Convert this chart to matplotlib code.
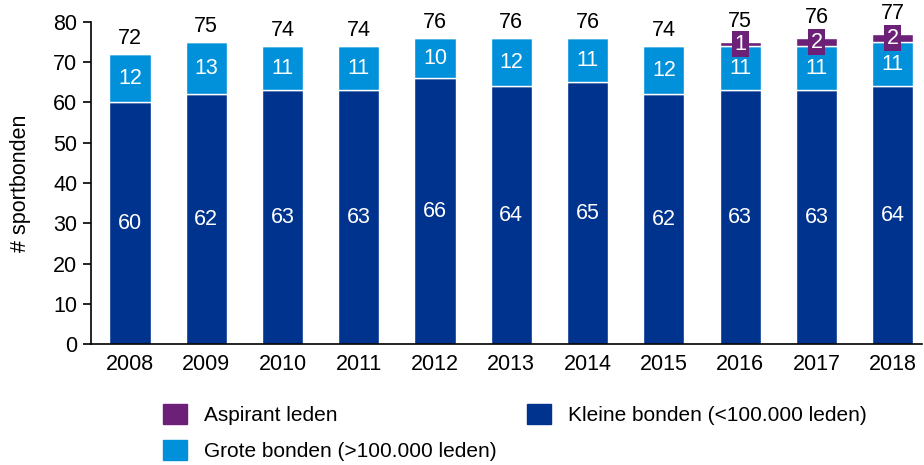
import matplotlib
matplotlib.use("Agg")
import matplotlib.pyplot as plt
from matplotlib.patches import Patch
import numpy as np

plt.rcParams['font.family'] = ['Liberation Sans', 'DejaVu Sans']

years = ['2008', '2009', '2010', '2011', '2012', '2013', '2014', '2015', '2016', '2017', '2018']
kleine = [60, 62, 63, 63, 66, 64, 65, 62, 63, 63, 64]
grote = [12, 13, 11, 11, 10, 12, 11, 12, 11, 11, 11]
aspirant = [0, 0, 0, 0, 0, 0, 0, 0, 1, 2, 2]
totals = [72, 75, 74, 74, 76, 76, 76, 74, 75, 76, 77]

c_kleine = '#00338D'
c_grote = '#0091DA'
c_asp = '#6D2077'

fig = plt.figure(figsize=(9.24, 4.65), dpi=100)
ax = fig.add_axes([0.0985, 0.2602, 0.9975 - 0.0985, 0.9527 - 0.2602])

x = np.arange(len(years))
w = 0.54
kl = np.array(kleine)
gr = np.array(grote)
asp = np.array(aspirant)

ax.bar(x, kl, width=w, color=c_kleine, edgecolor='white', linewidth=1)
ax.bar(x, gr, width=w, bottom=kl, color=c_grote, edgecolor='white', linewidth=1)
ax.bar(x, asp, width=w, bottom=kl + gr, color=c_asp, edgecolor='white', linewidth=1)

fs = 15.5
for i in range(len(years)):
    ax.text(x[i], kl[i] / 2, str(kleine[i]), ha='center', va='center', color='white', fontsize=fs)
    ax.text(x[i], kl[i] + gr[i] / 2, str(grote[i]), ha='center', va='center', color='white', fontsize=fs)
    top = kl[i] + gr[i] + asp[i]
    if asp[i] > 0:
        ax.text(x[i], kl[i] + gr[i] + asp[i] / 2, str(aspirant[i]), ha='center', va='center',
                color='white', fontsize=fs,
                bbox=dict(boxstyle='square,pad=0.12', facecolor=c_asp, edgecolor='none'))
        off = 7
    else:
        off = 4
    ax.annotate(str(totals[i]), (x[i], top), xytext=(0, off), textcoords='offset points',
                ha='center', va='bottom', fontsize=fs, color='black', annotation_clip=False)

ax.set_xlim(-0.51, 10.38)
ax.set_ylim(0, 80)
ax.set_yticks(range(0, 81, 10))
ax.set_xticks(x)
ax.set_xticklabels(years)
ax.tick_params(axis='x', length=0, pad=7, labelsize=fs)
ax.tick_params(axis='y', length=6, width=1.2, labelsize=fs, pad=4)
ax.spines['top'].set_visible(False)
ax.spines['right'].set_visible(False)
ax.spines['left'].set_linewidth(1.2)
ax.spines['bottom'].set_linewidth(1.2)
ax.set_ylabel('# sportbonden', fontsize=fs, labelpad=16)

handles = [Patch(color=c_asp, label='Aspirant leden'),
           Patch(color=c_grote, label='Grote bonden (>100.000 leden)'),
           Patch(color=c_kleine, label='Kleine bonden (<100.000 leden)')]
fig.legend(handles=handles, ncol=2, loc='upper left', bbox_to_anchor=(0.165, 0.154),
           frameon=False, fontsize=15, handlelength=1.15, handleheight=1.15,
           columnspacing=1.5, labelspacing=0.7, handletextpad=0.8, borderpad=0)

fig.savefig('out.png', dpi=100)
